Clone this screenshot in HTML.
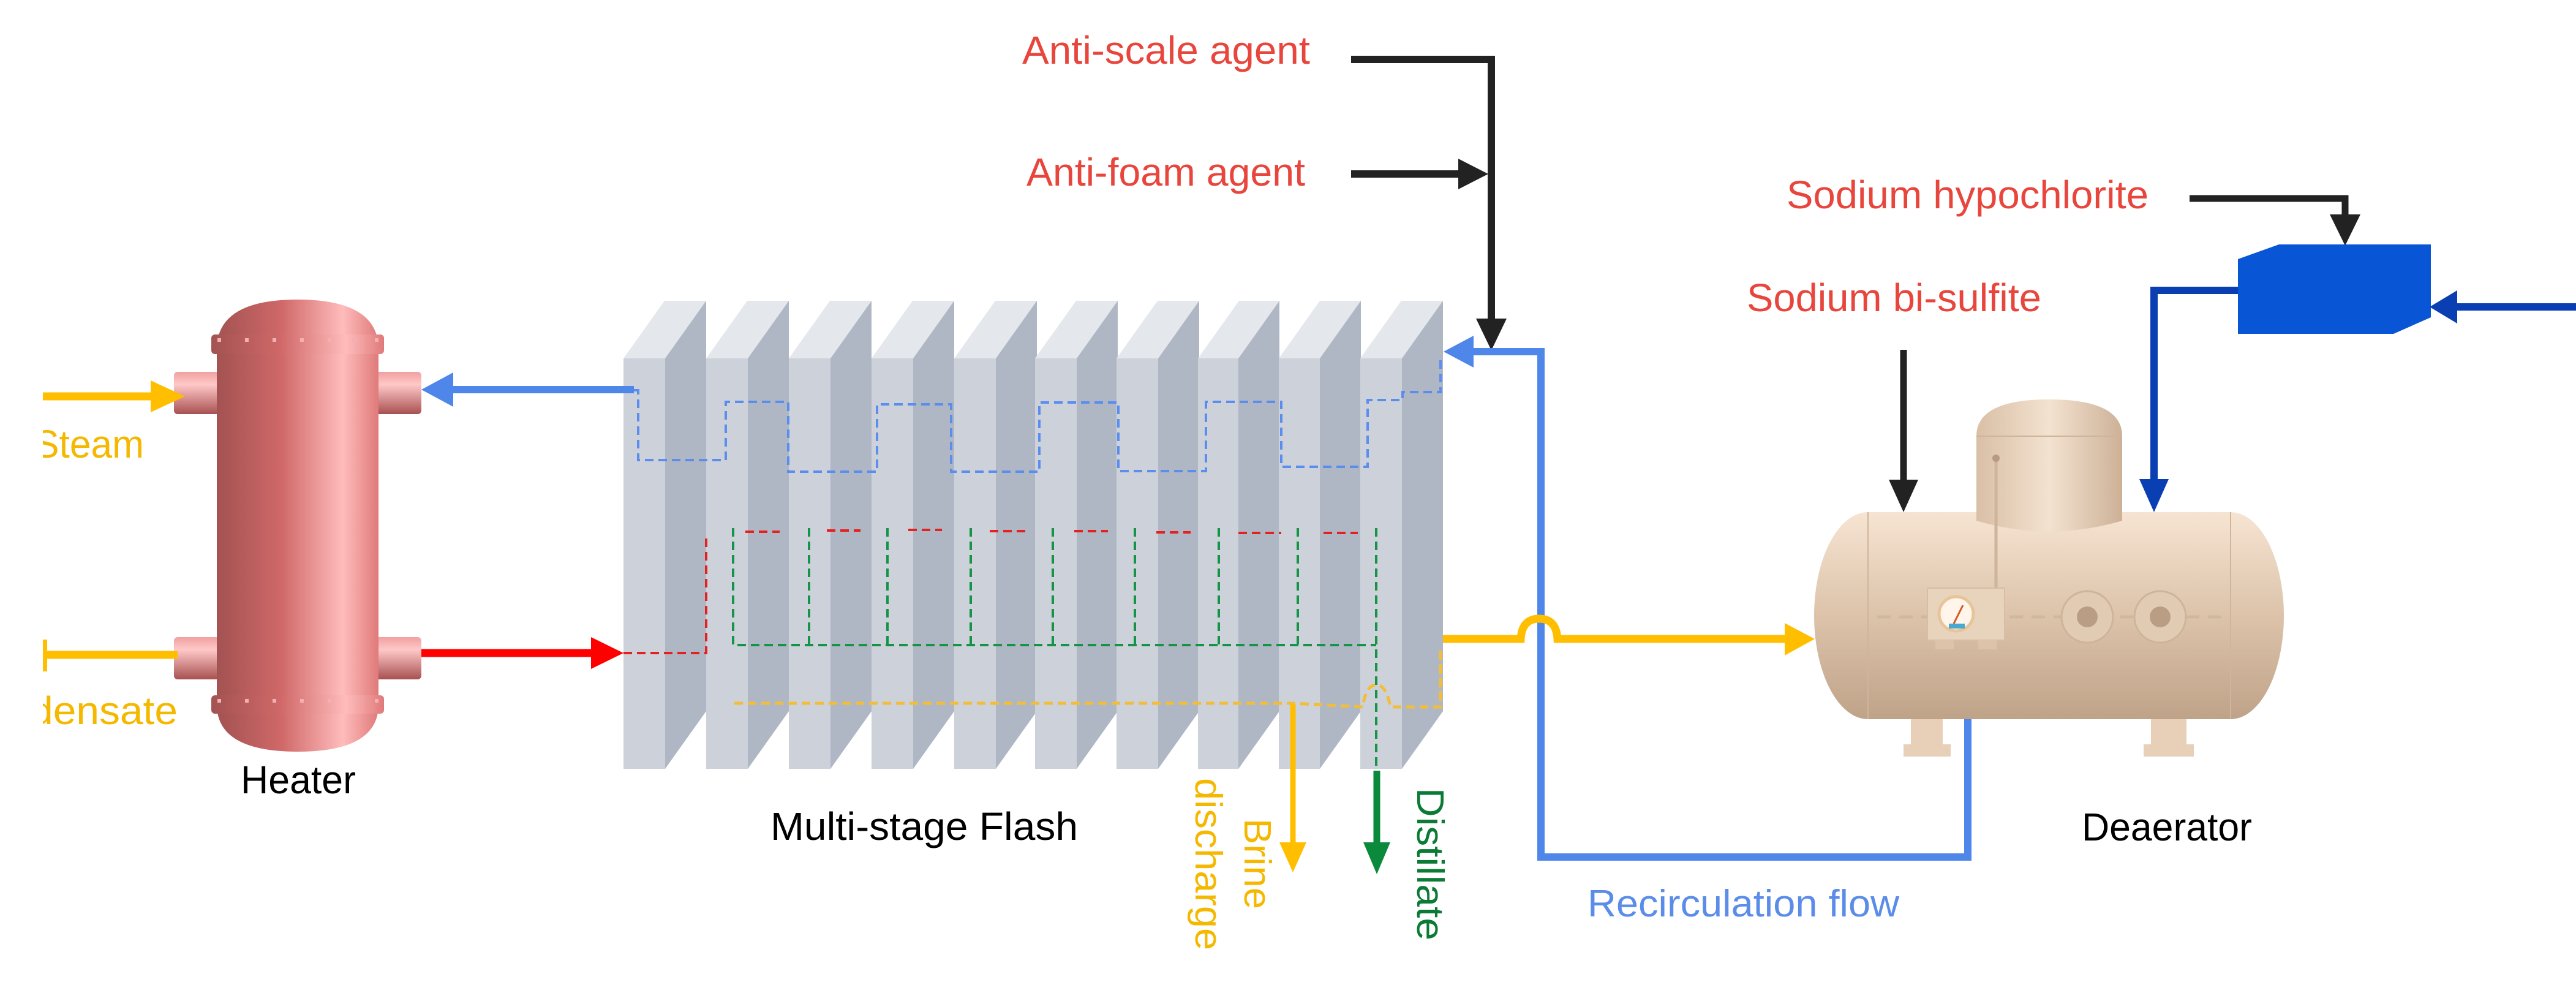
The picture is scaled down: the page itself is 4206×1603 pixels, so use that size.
<!DOCTYPE html>
<html><head><meta charset="utf-8"><style>html,body{margin:0;padding:0;background:#fff}svg{display:block}text{font-family:"Liberation Sans",Arial,sans-serif}</style></head>
<body>
<svg width="4206" height="1603" viewBox="0 0 4206 1603" xmlns="http://www.w3.org/2000/svg">
<defs>
<linearGradient id="hg" x1="0" x2="1" y1="0" y2="0">
<stop offset="0" stop-color="#a35252"/><stop offset="0.4" stop-color="#d06868"/><stop offset="0.78" stop-color="#ffbcbc"/><stop offset="1" stop-color="#e07a7a"/></linearGradient>
<linearGradient id="ng" x1="0" x2="0" y1="0" y2="1">
<stop offset="0" stop-color="#f0a0a0"/><stop offset="0.3" stop-color="#ffc8c8"/><stop offset="1" stop-color="#a85050"/></linearGradient>
<linearGradient id="dg" x1="0" x2="0" y1="0" y2="1">
<stop offset="0" stop-color="#f6e4d2"/><stop offset="0.5" stop-color="#dcc3aa"/><stop offset="1" stop-color="#bfa389"/></linearGradient>
<linearGradient id="domeg" x1="0" x2="1" y1="0" y2="0">
<stop offset="0" stop-color="#d9bfa6"/><stop offset="0.5" stop-color="#f3e2d0"/><stop offset="1" stop-color="#cdb197"/></linearGradient>
<clipPath id="lc"><rect x="70" y="0" width="400" height="1603"/></clipPath>
</defs>

<!-- Heater -->
<g>
<rect x="284" y="607" width="75" height="69" rx="6" fill="url(#ng)"/>
<rect x="613" y="607" width="75" height="69" rx="6" fill="url(#ng)"/>
<rect x="284" y="1040" width="75" height="69" rx="6" fill="url(#ng)"/>
<rect x="613" y="1040" width="75" height="69" rx="6" fill="url(#ng)"/>
<path d="M354 570 Q354 489 486 489 Q618 489 618 570 L618 1150 Q618 1227 486 1227 Q354 1227 354 1150 Z" fill="url(#hg)"/>
<rect x="345" y="546" width="282" height="32" rx="6" fill="url(#hg)"/>
<rect x="345" y="1135" width="282" height="30" rx="6" fill="url(#hg)"/>
<g fill="#f3b0b0">
<rect x="355" y="552" width="6" height="6"/><rect x="400" y="552" width="6" height="6"/><rect x="445" y="552" width="6" height="6"/><rect x="490" y="552" width="6" height="6"/><rect x="535" y="552" width="6" height="6"/><rect x="575" y="552" width="6" height="6"/><rect x="612" y="552" width="6" height="6"/>
<rect x="355" y="1141" width="6" height="6"/><rect x="400" y="1141" width="6" height="6"/><rect x="445" y="1141" width="6" height="6"/><rect x="490" y="1141" width="6" height="6"/><rect x="535" y="1141" width="6" height="6"/><rect x="575" y="1141" width="6" height="6"/><rect x="612" y="1141" width="6" height="6"/>
</g>
</g>

<!-- Steam & condensate -->
<line x1="70" y1="647" x2="250" y2="647" stroke="#ffbf00" stroke-width="13"/>
<polygon points="246,621 302,647 246,673" fill="#ffbf00"/>
<line x1="70" y1="1069" x2="290" y2="1069" stroke="#ffbf00" stroke-width="13"/>
<rect x="70" y="1044" width="7" height="52" fill="#ffbf00"/>
<g clip-path="url(#lc)" fill="#f5b800" font-size="64">
<text x="235" y="747" text-anchor="end" textLength="180" lengthAdjust="spacingAndGlyphs">Steam</text>
<text x="290" y="1182" text-anchor="end" textLength="365" lengthAdjust="spacingAndGlyphs">Condensate</text>
</g>
<text x="393" y="1295" font-size="64" textLength="188" lengthAdjust="spacingAndGlyphs">Heater</text>

<!-- MSF plates -->
<g>
<polygon points="1018,585 1085,491 1153,491 1086,585" fill="#e4e8ed"/><rect x="1018" y="585" width="68" height="670" fill="#cdd2da"/><polygon points="1086,585 1153,491 1153,1161 1086,1255" fill="#b0b7c4"/>
<polygon points="1153,585 1220,491 1288,491 1221,585" fill="#e4e8ed"/><rect x="1153" y="585" width="68" height="670" fill="#cdd2da"/><polygon points="1221,585 1288,491 1288,1161 1221,1255" fill="#b0b7c4"/>
<polygon points="1288,585 1355,491 1423,491 1356,585" fill="#e4e8ed"/><rect x="1288" y="585" width="68" height="670" fill="#cdd2da"/><polygon points="1356,585 1423,491 1423,1161 1356,1255" fill="#b0b7c4"/>
<polygon points="1423,585 1490,491 1558,491 1491,585" fill="#e4e8ed"/><rect x="1423" y="585" width="68" height="670" fill="#cdd2da"/><polygon points="1491,585 1558,491 1558,1161 1491,1255" fill="#b0b7c4"/>
<polygon points="1558,585 1625,491 1693,491 1626,585" fill="#e4e8ed"/><rect x="1558" y="585" width="68" height="670" fill="#cdd2da"/><polygon points="1626,585 1693,491 1693,1161 1626,1255" fill="#b0b7c4"/>
<polygon points="1690,585 1757,491 1825,491 1758,585" fill="#e4e8ed"/><rect x="1690" y="585" width="68" height="670" fill="#cdd2da"/><polygon points="1758,585 1825,491 1825,1161 1758,1255" fill="#b0b7c4"/>
<polygon points="1823,585 1890,491 1958,491 1891,585" fill="#e4e8ed"/><rect x="1823" y="585" width="68" height="670" fill="#cdd2da"/><polygon points="1891,585 1958,491 1958,1161 1891,1255" fill="#b0b7c4"/>
<polygon points="1956,585 2023,491 2089,491 2022,585" fill="#e4e8ed"/><rect x="1956" y="585" width="66" height="670" fill="#cdd2da"/><polygon points="2022,585 2089,491 2089,1161 2022,1255" fill="#b0b7c4"/>
<polygon points="2088,585 2155,491 2222,491 2155,585" fill="#e4e8ed"/><rect x="2088" y="585" width="67" height="670" fill="#cdd2da"/><polygon points="2155,585 2222,491 2222,1161 2155,1255" fill="#b0b7c4"/>
<polygon points="2221,585 2288,491 2356,491 2289,585" fill="#e4e8ed"/><rect x="2221" y="585" width="68" height="670" fill="#cdd2da"/><polygon points="2289,585 2356,491 2356,1161 2289,1255" fill="#b0b7c4"/>
</g>

<!-- dashed internals -->
<g fill="none" stroke-width="4" stroke-dasharray="14 8">
<polyline stroke="#5b8def" points="1035,637 1042,637 1042,751 1185,751 1185,656 1287,656 1287,770 1432,770 1432,660 1553,660 1553,770 1697,770 1697,657 1826,657 1826,769 1969,769 1969,656 2092,656 2092,762 2233,762 2233,653 2290,653 2290,640 2352,640 2352,585"/>
<polyline stroke="#e52020" points="1018,1066 1153,1066 1153,873"/>
<g stroke="#e52020"><line x1="1217" y1="868" x2="1273" y2="868"/><line x1="1350" y1="866" x2="1405" y2="866"/><line x1="1483" y1="865" x2="1538" y2="865"/><line x1="1616" y1="867" x2="1675" y2="867"/><line x1="1754" y1="867" x2="1809" y2="867"/><line x1="1888" y1="869" x2="1944" y2="869"/><line x1="2022" y1="870" x2="2092" y2="870"/><line x1="2161" y1="870" x2="2217" y2="870"/></g>
<g stroke="#159447"><polyline points="1197,862 1197,1053 2247,1053"/><line x1="1321" y1="862" x2="1321" y2="1053"/><line x1="1449" y1="862" x2="1449" y2="1053"/><line x1="1585" y1="862" x2="1585" y2="1053"/><line x1="1719" y1="862" x2="1719" y2="1053"/><line x1="1853" y1="862" x2="1853" y2="1053"/><line x1="1990" y1="862" x2="1990" y2="1053"/><line x1="2119" y1="862" x2="2119" y2="1053"/><line x1="2247" y1="862" x2="2247" y2="1258"/></g>
<path stroke="#f2bd3a" stroke-width="5" d="M1199 1148 L2110 1148 L2225 1154 Q2230 1118 2247 1118 Q2264 1118 2270 1154 L2352 1154 L2352 1060"/>
</g>

<!-- Brine & distillate -->
<line x1="2111" y1="1150" x2="2111" y2="1380" stroke="#ffbf00" stroke-width="9"/>
<polygon points="2089,1375 2133,1375 2111,1424" fill="#ffbf00"/>
<line x1="2248" y1="1258" x2="2248" y2="1380" stroke="#0a8a3a" stroke-width="11"/>
<polygon points="2226,1375 2270,1375 2248,1427" fill="#0a8a3a"/>
<g font-size="62" fill="#f5b800">
<text transform="translate(2032,1336) rotate(90)" textLength="148" lengthAdjust="spacingAndGlyphs">Brine</text>
<text transform="translate(1952,1270) rotate(90)" textLength="281" lengthAdjust="spacingAndGlyphs">discharge</text>
</g>
<text transform="translate(2314,1286) rotate(90)" font-size="62" fill="#0a7a35" textLength="249" lengthAdjust="spacingAndGlyphs">Distillate</text>
<text x="1258" y="1371" font-size="64" textLength="502" lengthAdjust="spacingAndGlyphs">Multi-stage Flash</text>

<!-- heater arrows -->
<line x1="1035" y1="636" x2="735" y2="636" stroke="#4f86ea" stroke-width="12"/>
<polygon points="740,608 688,636 740,664" fill="#4f86ea"/>
<line x1="688" y1="1066" x2="970" y2="1066" stroke="#ff0000" stroke-width="13"/>
<polygon points="965,1040 1018,1066 965,1092" fill="#ff0000"/>

<!-- agents -->
<text x="1669" y="104" font-size="64" fill="#e8453c" textLength="470" lengthAdjust="spacingAndGlyphs">Anti-scale agent</text>
<text x="1676" y="303" font-size="64" fill="#e8453c" textLength="455" lengthAdjust="spacingAndGlyphs">Anti-foam agent</text>
<polyline points="2206,97 2435,97 2435,525" fill="none" stroke="#222" stroke-width="12"/>
<polygon points="2410,520 2460,520 2435,572" fill="#222"/>
<line x1="2206" y1="284" x2="2385" y2="284" stroke="#222" stroke-width="12"/>
<polygon points="2381,259 2430,284 2381,309" fill="#222"/>

<!-- recirculation -->
<polyline points="2402,574 2516,574 2516,1399 3213,1399 3213,1174" fill="none" stroke="#4f86ea" stroke-width="12"/>
<polygon points="2406,548 2357,574 2406,600" fill="#4f86ea"/>
<text x="2592" y="1496" font-size="62" fill="#5b8de8" textLength="509" lengthAdjust="spacingAndGlyphs">Recirculation flow</text>

<!-- yellow to deaerator -->
<path d="M2356 1043 L2483 1043 Q2485 1010 2513 1010 Q2541 1010 2543 1043 L2918 1043" fill="none" stroke="#ffbf00" stroke-width="13"/>
<polygon points="2914,1017 2963,1043 2914,1070" fill="#ffbf00"/>
<path d="M2352 1062 L2352 1150" fill="none" stroke="#f2bd3a" stroke-width="5" stroke-dasharray="14 8"/>

<!-- Deaerator -->
<g>
<rect x="3120" y="1170" width="52" height="45" fill="#e8d0b8"/><rect x="3108" y="1215" width="77" height="20" fill="#e8d0b8"/>
<rect x="3512" y="1170" width="58" height="45" fill="#e8d0b8"/><rect x="3500" y="1215" width="82" height="20" fill="#e8d0b8"/>
<ellipse cx="3050" cy="1005" rx="88" ry="169" fill="url(#dg)"/>
<ellipse cx="3642" cy="1005" rx="87" ry="169" fill="url(#dg)"/>
<rect x="3050" y="836" width="592" height="338" fill="url(#dg)"/>
<line x1="3050" y1="836" x2="3050" y2="1174" stroke="#cfb59c" stroke-width="2"/>
<line x1="3642" y1="836" x2="3642" y2="1174" stroke="#cfb59c" stroke-width="2"/>
<path d="M3227 712 Q3227 652 3346 652 Q3465 652 3465 712 L3465 850 Q3346 885 3227 850 Z" fill="url(#domeg)"/>
<line x1="3227" y1="712" x2="3465" y2="712" stroke="#cdb49a" stroke-width="2"/>
<line x1="3259" y1="748" x2="3259" y2="960" stroke="#cdb49a" stroke-width="5"/>
<circle cx="3259" cy="748" r="6" fill="#b89a80"/>
<line x1="3065" y1="1007" x2="3630" y2="1007" stroke="#d0b89e" stroke-width="5" stroke-dasharray="22 14"/>
<rect x="3147" y="960" width="126" height="85" fill="#e8d3bd" stroke="#d6bea5" stroke-width="2"/>
<rect x="3160" y="1045" width="30" height="15" fill="#dcc3aa"/><rect x="3230" y="1045" width="30" height="15" fill="#dcc3aa"/>
<circle cx="3194" cy="1002" r="28" fill="#fff5ea" stroke="#e8c49a" stroke-width="5"/>
<line x1="3190" y1="1018" x2="3205" y2="988" stroke="#d45a2a" stroke-width="3"/>
<rect x="3182" y="1018" width="26" height="8" fill="#4aa8d0"/>
<circle cx="3408" cy="1007" r="42" fill="#e2cbb3" stroke="#cdb49a" stroke-width="3"/><circle cx="3408" cy="1007" r="17" fill="#b99d84"/>
<circle cx="3527" cy="1007" r="42" fill="#e2cbb3" stroke="#cdb49a" stroke-width="3"/><circle cx="3527" cy="1007" r="17" fill="#b99d84"/>
</g>
<text x="3399" y="1372" font-size="64" textLength="278" lengthAdjust="spacingAndGlyphs">Deaerator</text>

<!-- chemicals right -->
<text x="2917" y="340" font-size="64" fill="#e8453c" textLength="591" lengthAdjust="spacingAndGlyphs">Sodium hypochlorite</text>
<text x="3333" y="508" font-size="64" fill="#e8453c" text-anchor="end" textLength="481" lengthAdjust="spacingAndGlyphs">Sodium bi-sulfite</text>
<polyline points="3575,324 3829,324 3829,355" fill="none" stroke="#222" stroke-width="11"/>
<polygon points="3804,350 3854,350 3829,401" fill="#222"/>
<line x1="3108" y1="571" x2="3108" y2="790" stroke="#222" stroke-width="11"/>
<polygon points="3084,783 3132,783 3108,836" fill="#222"/>
<polygon points="3654,423 3721,399 3969,399 3969,518 3908,545 3654,545" fill="#0855d6"/>
<line x1="4206" y1="501" x2="4008" y2="501" stroke="#0a3fb4" stroke-width="12"/>
<polygon points="4012,474 3967,501 4012,528" fill="#0a3fb4"/>
<polyline points="3654,474 3517,474 3517,790" fill="none" stroke="#0a3fb4" stroke-width="12"/>
<polygon points="3493,782 3541,782 3517,836" fill="#0a3fb4"/>
</svg>
</body></html>
